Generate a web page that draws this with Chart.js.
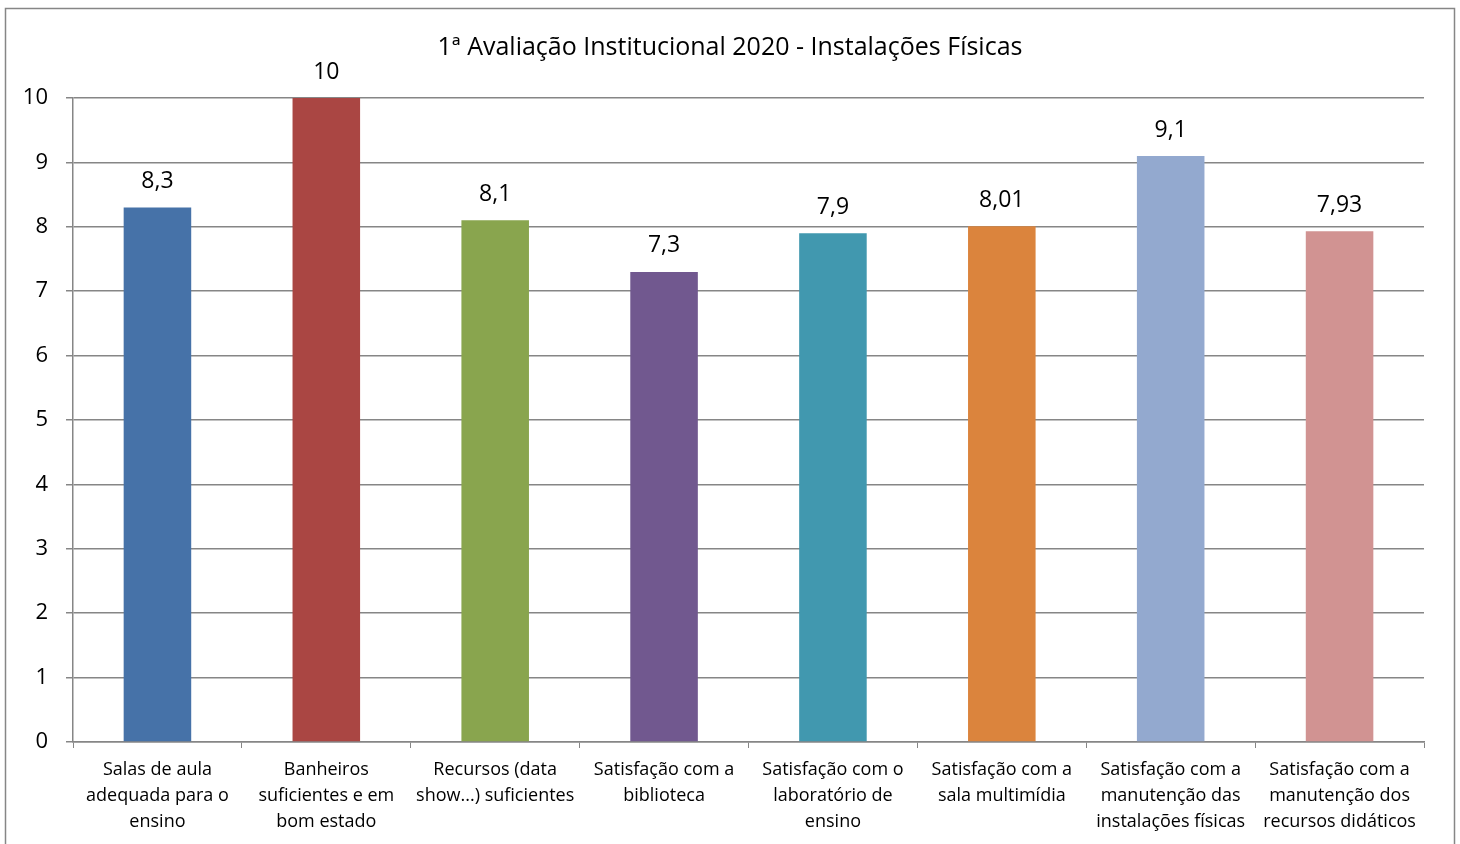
<!DOCTYPE html>
<html>
<head>
<meta charset="utf-8">
<script src="https://cdn.jsdelivr.net/npm/chart.js@4/dist/chart.umd.min.js"></script>
<style>
  html, body { margin: 0; padding: 0; background: #fff; }
  #wrap { width: 1460px; height: 844px; position: relative; }
</style>
</head>
<body>
<div id="wrap"><canvas id="chart"></canvas></div>
<script>
// Data
const categories = [
    ['Salas de aula', 'adequada para o', 'ensino'],
    ['Banheiros', 'suficientes e em', 'bom estado'],
    ['Recursos (data', 'show...) suficientes'],
    ['Satisfação com a', 'biblioteca'],
    ['Satisfação com o', 'laboratório de', 'ensino'],
    ['Satisfação com a', 'sala multimídia'],
    ['Satisfação com a', 'manutenção das', 'instalações físicas'],
    ['Satisfação com a', 'manutenção dos', 'recursos didáticos']
];
const scores = [8.3, 10, 8.1, 7.3, 7.9, 8.01, 9.1, 7.93];
const barColors = ['#4672A8', '#AA4643', '#89A54E', '#71588F', '#4198AF', '#DB843D', '#93A9CF', '#D19392'];
const chartTitle = '1ª Avaliação Institucional 2020 - Instalações Físicas';

const FONT = "'Open Sans', 'DejaVu Sans', sans-serif";
Chart.defaults.font.family = FONT;
Chart.defaults.color = '#000';

// outer frame + title
const framePlugin = {
    id: 'frame',
    beforeDraw(chart) {
        const ctx = chart.ctx;
        ctx.save();
        ctx.fillStyle = '#fff';
        ctx.fillRect(0, 0, chart.width, chart.height);
        ctx.strokeStyle = '#868686';
        ctx.lineWidth = 1.5;
        ctx.strokeRect(5.5, 8.5, 1449, 900);
        ctx.restore();
    },
    afterDraw(chart) {
        const ctx = chart.ctx;
        ctx.save();
        ctx.fillStyle = '#000';
        ctx.font = '25px ' + FONT;
        ctx.textAlign = 'center';
        ctx.textBaseline = 'middle';
        ctx.fillText(chartTitle, 730, 48);
        ctx.restore();
    }
};

// values above the bars, decimal comma
const valueLabels = {
    id: 'valueLabels',
    afterDatasetsDraw(chart) {
        const ctx = chart.ctx;
        const meta = chart.getDatasetMeta(0);
        ctx.save();
        ctx.fillStyle = '#000';
        ctx.font = '23px ' + FONT;
        ctx.textAlign = 'center';
        ctx.textBaseline = 'middle';
        meta.data.forEach(function(bar, i) {
            ctx.fillText(String(scores[i]).replace('.', ','), bar.x, bar.y - 26);
        });
        ctx.restore();
    }
};

new Chart(document.getElementById('chart'), {
    type: 'bar',
    data: {
        labels: categories,
        datasets: [{
            data: scores,
            backgroundColor: barColors,
            borderWidth: 0,
            categoryPercentage: 1,
            barPercentage: 0.4
        }]
    },
    options: {
        responsive: true,
        maintainAspectRatio: false,
        animation: false,
        layout: { padding: { top: 98, right: 36, bottom: 0, left: 0 } },
        plugins: {
            legend: { display: false },
            title: { display: false },
            tooltip: { enabled: false }
        },
        scales: {
            x: {
                afterFit: s => { s.height = 102; },
                grid: {
                    offset: true,
                    drawOnChartArea: false,
                    drawTicks: true,
                    tickLength: 6,
                    color: '#868686'
                },
                border: { color: '#868686', width: 1.5 },
                ticks: {
                    maxRotation: 0,
                    autoSkip: false,
                    padding: 9,
                    color: '#000',
                    font: { size: 18, lineHeight: '26px' }
                }
            },
            y: {
                min: 0,
                max: 10,
                afterFit: s => { s.width = 73; },
                grid: {
                    color: '#868686',
                    lineWidth: 1.5,
                    tickLength: 7
                },
                border: { color: '#868686', width: 1.5 },
                ticks: {
                    stepSize: 1,
                    padding: 18,
                    color: '#000',
                    font: { size: 22 }
                }
            }
        }
    },
    plugins: [framePlugin, valueLabels]
});
</script>
</body>
</html>
